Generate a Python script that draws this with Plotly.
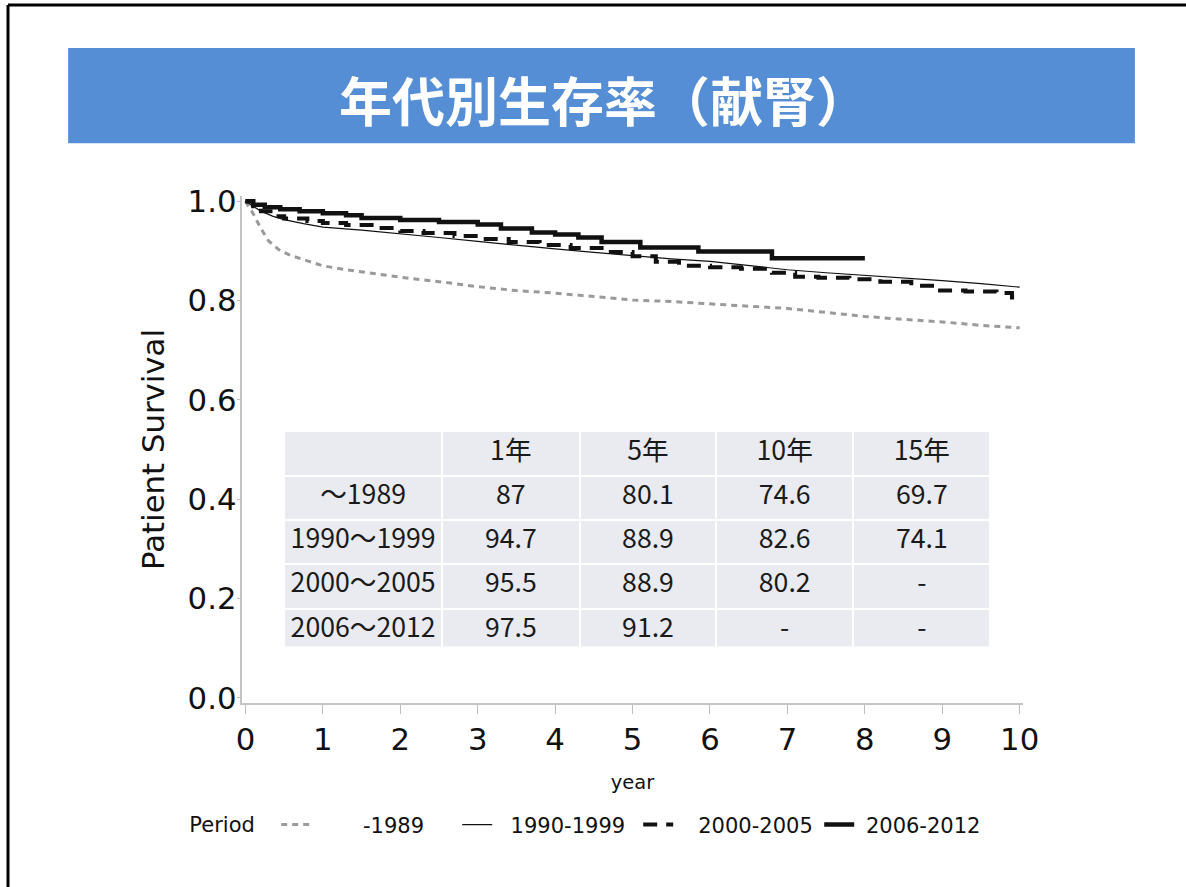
import plotly.graph_objects as go

# reference canvas (pixel positions below are read on this canvas)
W, H = 1186, 887
# figure size in page pixels (the page is photographed slightly shrunk)
FW, FH = 1211, 914
K = 1.026  # size factor for fonts / pixel lengths

# ---------------- data ----------------
series_names = ["-1989", "1990-1999", "2000-2005", "2006-2012"]

x_1989 = [0, 0.1, 0.2, 0.3, 0.45, 0.6, 0.8, 1.0, 1.3, 1.6, 2.0, 2.5, 3.0, 3.5, 4.0, 4.5,
          5.0, 5.5, 6.0, 6.5, 7.0, 7.5, 8.0, 8.5, 9.0, 9.5, 10.0]
y_1989 = [1.0, 0.975, 0.945, 0.92, 0.90, 0.89, 0.88, 0.870, 0.862, 0.855, 0.847, 0.838, 0.828,
          0.820, 0.815, 0.808, 0.801, 0.798, 0.793, 0.788, 0.784, 0.776, 0.768, 0.762, 0.757,
          0.750, 0.745]

x_1999 = [0, 0.1, 0.2, 0.35, 0.5, 0.75, 1.0, 1.5, 2.0, 2.5, 3.0, 3.5, 4.0, 4.5, 5.0, 5.5,
          6.0, 6.5, 7.0, 7.5, 8.0, 8.5, 9.0, 9.5, 10.0]
y_1999 = [1.0, 0.99, 0.98, 0.97, 0.963, 0.955, 0.948, 0.942, 0.935, 0.927, 0.919, 0.911, 0.904,
          0.897, 0.890, 0.884, 0.879, 0.871, 0.862, 0.856, 0.851, 0.846, 0.840, 0.834, 0.827]

x_2005 = [0, 0.1, 0.2, 0.35, 0.5, 0.8, 1.0, 1.3, 1.7, 2.0, 2.3, 2.7, 3.0, 3.4, 3.8, 4.2, 4.6,
          5.0, 5.3, 5.6, 6.0, 6.4, 6.8, 7.1, 7.4, 7.8, 8.2, 8.6, 8.9, 9.3, 9.7, 9.9, 10.0]
y_2005 = [1.0, 0.99, 0.98, 0.97, 0.965, 0.960, 0.956, 0.952, 0.946, 0.940, 0.936, 0.930, 0.924,
          0.918, 0.912, 0.906, 0.898, 0.889, 0.878, 0.870, 0.867, 0.864, 0.856, 0.848, 0.846,
          0.843, 0.838, 0.830, 0.820, 0.818, 0.815, 0.806, 0.800]

x_2012 = [0, 0.1, 0.25, 0.45, 0.7, 1.0, 1.3, 1.5, 2.0, 2.5, 3.0, 3.3, 3.7, 4.0, 4.3, 4.6,
          5.1, 5.85, 6.8, 8.0]
y_2012 = [1.0, 0.993, 0.988, 0.984, 0.980, 0.976, 0.972, 0.966, 0.962, 0.958, 0.953, 0.945,
          0.937, 0.933, 0.927, 0.918, 0.907, 0.899, 0.885, 0.885]

x_ticks = [0, 1, 2, 3, 4, 5, 6, 7, 8, 9, 10]
y_ticks = [0.0, 0.2, 0.4, 0.6, 0.8, 1.0]
y_tick_labels = ["0.0", "0.2", "0.4", "0.6", "0.8", "1.0"]

table_header = ["", "1年", "5年", "10年", "15年"]
table_rows = ["～1989", "1990～1999", "2000～2005", "2006～2012"]
surv_1yr = [87, 94.7, 95.5, 97.5]
surv_5yr = [80.1, 88.9, 88.9, 91.2]
surv_10yr = [74.6, 82.6, 80.2, None]
surv_15yr = [69.7, 74.1, None, None]

title_text = "年代別生存率（献腎）"

# ---------------- figure ----------------
def px_x(p):
    return p / W

def px_y(p):
    return (H - p) / H

NB = "\u00a0"
fig = go.Figure()
styles = [
    dict(color="#9a9a9a", width=3, dash="6px,5px"),
    dict(color="#111111", width=1.2),
    dict(color="#111111", width=4, dash="14px,9px"),
    dict(color="#111111", width=4.5),
]
pads = [7, 2, 3, 1]
shapes_line = ["linear", "linear", "hv", "hv"]
xs = [x_1989, x_1999, x_2005, x_2012]
ys = [y_1989, y_1999, y_2005, y_2012]
for name, xv, yv, st, pad, shp in zip(series_names, xs, ys, styles, pads, shapes_line):
    fig.add_trace(go.Scatter(x=xv, y=yv, mode="lines", name=NB * pad + name,
                             line=dict(shape=shp, **st)))

def fmt(v):
    return "-" if v is None else f"{v:g}"

cell_fill = "#E9EBF1"
row_h = 215 / 5 * FH / H
table_font = dict(family="Noto Sans CJK JP", size=26 * K, color="#1a1a1a")
fig.add_trace(go.Table(
    domain=dict(x=[px_x(285), px_x(990)], y=[px_y(647), px_y(432)]),
    columnwidth=[157, 138, 136, 137, 137],
    header=dict(values=table_header, fill_color=cell_fill,
                line=dict(color="white", width=2), height=row_h, align="center",
                font=table_font),
    cells=dict(values=[table_rows, [fmt(v) for v in surv_1yr], [fmt(v) for v in surv_5yr],
                       [fmt(v) for v in surv_10yr], [fmt(v) for v in surv_15yr]],
               fill_color=cell_fill, line=dict(color="white", width=2), height=row_h,
               align="center", font=table_font),
))

tick_font = dict(family="DejaVu Sans", size=30 * K, color="#111111")
legend_font = dict(family="DejaVu Sans", size=20.5 * K, color="#111111")
fig.update_layout(
    width=FW, height=FH,
    margin=dict(l=0, r=0, t=0, b=0),
    paper_bgcolor="white", plot_bgcolor="white",
    xaxis=dict(domain=[px_x(243), px_x(1022)], range=[-0.039, 10.039],
               tickvals=x_ticks, ticks="outside", ticklen=9, tickcolor="#bdbdbd",
               showline=True, linecolor="#c4c4c4", linewidth=1.5,
               showgrid=False, zeroline=False, tickfont=tick_font,
               title=dict(text="year", font=dict(family="DejaVu Sans", size=19 * K, color="#111111"),
                          standoff=19)),
    yaxis=dict(domain=[px_y(703), px_y(197)], range=[-0.0101, 1.0101],
               tickvals=y_ticks, ticktext=y_tick_labels, ticks="outside", ticklen=4,
               tickcolor="#bdbdbd", showline=True, linecolor="#c4c4c4", linewidth=1.5,
               showgrid=False, zeroline=False, tickfont=tick_font, ticklabelstandoff=-6,
               title=dict(text="Patient Survival",
                          font=dict(family="DejaVu Sans", size=30 * K, color="#111111"),
                          standoff=14)),
    legend=dict(orientation="h", x=px_x(188), y=px_y(825), xanchor="left", yanchor="middle",
                title=dict(text="Period" + NB * 2, font=legend_font),
                font=legend_font,
                entrywidth=136, entrywidthmode="pixels", bgcolor="rgba(0,0,0,0)"),
    showlegend=True,
    shapes=[
        dict(type="rect", xref="paper", yref="paper", x0=px_x(69), x1=px_x(1134),
             y0=px_y(144), y1=px_y(49), fillcolor="#558ED5", line=dict(width=0), layer="below"),
        dict(type="line", xref="paper", yref="paper", x0=px_x(9), x1=1, y0=px_y(6), y1=px_y(6),
             line=dict(color="black", width=3)),
        dict(type="line", xref="paper", yref="paper", x0=px_x(9), x1=px_x(9), y0=0, y1=px_y(6),
             line=dict(color="black", width=3)),
    ],
    annotations=[
        dict(text=title_text, xref="paper", yref="paper", x=px_x(604), y=px_y(100),
             xanchor="center", yanchor="middle", showarrow=False,
             font=dict(family="Noto Sans CJK JP", size=53, color="white", weight="bold")),
    ],
)

page_css = ("document.documentElement.style.margin='0';"
            "document.documentElement.style.padding='0';"
            "document.body.style.padding='0';"
            "document.body.style.margin='-14px 0 0 -8px';"
            "document.body.style.overflow='hidden';")
fig.write_html("out.html", post_script=page_css, config={"displayModeBar": False})
